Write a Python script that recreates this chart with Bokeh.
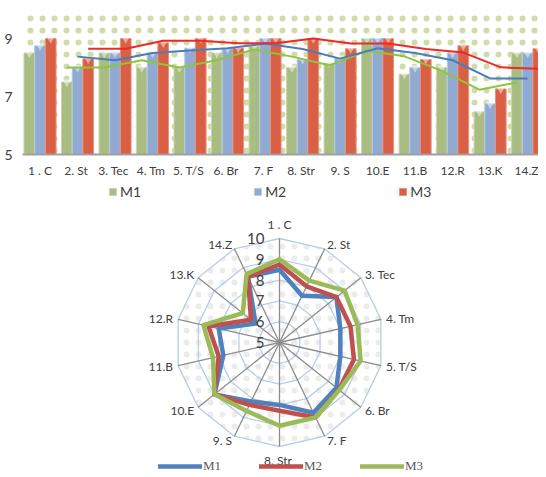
import numpy as np
from bokeh.plotting import figure
from bokeh.models import (ColumnDataSource, FixedTicker, Range1d, Legend, LegendItem,
                          BoxAnnotation)
from bokeh.layouts import column
from bokeh.embed import file_html
from bokeh.resources import INLINE
from bokeh.core.properties import value

# ---------------- data ----------------
categories = ["1 . C", "2.  St", "3.  Tec", "4.  Tm", "5.  T/S", "6.  Br", "7.  F",
              "8.  Str", "9. S", "10.E", "11.B", "12.R", "13.K", "14.Z"]
m1 = [8.5, 7.5, 8.5, 8.0, 8.0, 8.5, 8.75, 8.0, 8.15, 9.0, 7.77, 8.0, 6.47, 8.5]
m2 = [8.75, 8.0, 8.5, 8.5, 8.67, 8.65, 9.0, 8.28, 8.33, 9.0, 8.0, 8.5, 6.75, 8.5]
m3 = [9.0, 8.3, 9.0, 8.85, 9.0, 8.67, 9.0, 9.0, 8.65, 9.0, 8.28, 8.75, 7.26, 8.65]
series_names = ["M1", "M2", "M3"]
bar_y_ticks = [5, 7, 9]
radar_levels = [5, 6, 7, 8, 9, 10]
trend_period = 2  # moving-average trendline period

# ---------------- styles ----------------
bar_colors = ["#a9bd82", "#90aad2", "#d95f45"]
bar_edges = ["#c9d6ae", "#b8cbe6", "#e8927f"]
trend_colors = ["#8cc63f", "#4a7ebb", "#f02828"]
radar_colors = ["#4f81bd", "#c0504d", "#9bbb59"]
txt = "#404040"
FONT = "Lato"
LEFT = 22

# ================= top: clustered bars + moving-average trendlines =================
x = np.arange(1, len(categories) + 1)
w = 0.285
p1 = figure(width=538, height=180, x_range=Range1d(0.533, 14.29), y_range=Range1d(5, 10),
            output_backend="svg", toolbar_location=None,
            min_border_top=9, min_border_left=LEFT, min_border_right=0, min_border_bottom=23)
p1.outline_line_color = None
p1.xgrid.visible = False
p1.ygrid.visible = False
p1.background_fill_color = "white"

dots = BoxAnnotation(fill_alpha=0, line_color=None, hatch_pattern="dot", hatch_color="#cfdcaa",
                     hatch_scale=12, hatch_weight=0.9, level="underlay")
p1.add_layout(dots)

series = [m1, m2, m3]
offsets = [-w, 0.0, w]
for vals, off, fc, ec in zip(series, offsets, bar_colors, bar_edges):
    src = ColumnDataSource(dict(x=x + off, top=vals))
    p1.vbar(x="x", top="top", bottom=5, width=w, source=src, fill_color=fc,
            line_color=ec, line_width=1)
    p1.scatter(x="x", y="top", source=src, marker="inverted_triangle", size=9,
               fill_color="white", fill_alpha=0.45, line_color=None)

for vals, off, lc in zip(series, offsets, trend_colors):
    ma = np.convolve(vals, np.ones(trend_period) / trend_period, mode="valid")
    p1.line(x[trend_period - 1:] + off, ma, line_color=lc, line_width=2)

for ax in (p1.xaxis, p1.yaxis):
    ax.major_tick_out = 0
    ax.major_tick_in = 0
    ax.minor_tick_out = 0
    ax.minor_tick_in = 0
    ax.major_tick_line_color = None
    ax.minor_tick_line_color = None
    ax.major_label_text_font = FONT
    ax.major_label_text_color = txt

p1.yaxis.ticker = FixedTicker(ticks=bar_y_ticks)
p1.yaxis.axis_line_color = None
p1.yaxis.major_label_standoff = 10
p1.yaxis.major_label_text_font_size = "14px"

p1.xaxis.ticker = FixedTicker(ticks=list(x))
p1.xaxis.major_label_overrides = {int(i): c for i, c in zip(x, categories)}
p1.xaxis.axis_line_color = "#a0a0a0"
p1.xaxis.axis_line_width = 2
p1.xaxis.major_label_standoff = 8
p1.xaxis.major_label_text_font_size = "12px"

# ================= bottom: radar (also hosts the bar legend) =================
U = 20.8  # pixels per value unit
W2, H2 = 538, 294
cx, cy = 279 - LEFT, 162   # centre inside the frame
FW = W2 - LEFT
p2 = figure(width=W2, height=H2, output_backend="svg", toolbar_location=None,
            x_range=Range1d(-cx / U, (FW - cx) / U), y_range=Range1d(-(H2 - cy) / U, cy / U),
            min_border_left=LEFT, min_border_right=0, min_border_top=0, min_border_bottom=0,
            x_axis_location=None, y_axis_location=None)
p2.outline_line_color = None
p2.xgrid.visible = False
p2.ygrid.visible = False

# legend keys for the bar chart above (hidden copies of the bar series, legend only)
bar_keys = [p2.vbar(x=x, top=vals, bottom=5, width=w, fill_color=fc, line_color=ec, visible=False)
            for vals, fc, ec in zip(series, bar_colors, bar_edges)]
leg1 = Legend(items=[LegendItem(label=nm, renderers=[r]) for nm, r in zip(series_names, bar_keys)],
              orientation="horizontal", location=(86, 274), glyph_width=9, glyph_height=9,
              label_standoff=3, spacing=112, padding=0, margin=0,
              border_line_color=None, background_fill_alpha=0, inactive_fill_alpha=0,
              label_text_font=FONT, label_text_font_size="14px", label_text_color=txt)
p2.add_layout(leg1)

n = len(categories)
theta = np.pi / 2 - 2 * np.pi * np.arange(n) / n
cos_t, sin_t = np.cos(theta), np.sin(theta)
base = radar_levels[0]
rmax = radar_levels[-1] - base

p2.patch(list(rmax * cos_t), list(rmax * sin_t), fill_alpha=0, line_color=None,
         hatch_pattern="dot", hatch_color="#ececec", hatch_scale=12, hatch_weight=0.7)

ring_xs, ring_ys = [], []
for lvl in radar_levels[1:]:
    r = lvl - base
    ring_xs.append(list(np.append(r * cos_t, r * cos_t[0])))
    ring_ys.append(list(np.append(r * sin_t, r * sin_t[0])))
p2.multi_line(ring_xs, ring_ys, line_color="#b9cde5", line_width=1.3)
p2.multi_line([[0, rmax * c] for c in cos_t], [[0, rmax * s] for s in sin_t],
              line_color="#8c8c8c", line_width=1.3)

radar_rs = []
for vals, col in zip(series, radar_colors):
    r = np.asarray(vals) - base
    xs = np.append(r * cos_t, [r[0] * cos_t[0], r[1] * cos_t[1]])
    ys = np.append(r * sin_t, [r[0] * sin_t[0], r[1] * sin_t[1]])
    rr = p2.line(xs, ys, line_color=col, line_width=4.5, line_join="round", line_cap="round")
    radar_rs.append(rr)

# category labels
lab_x, lab_y, lab_align, lab_base = [], [], [], []
for c, s in zip(cos_t, sin_t):
    if abs(c) < 1e-6:
        rl = rmax + 0.3
        lab_align.append("center")
        lab_base.append("bottom" if s > 0 else "top")
    else:
        rl = rmax + 0.25
        lab_align.append("left" if c > 0 else "right")
        lab_base.append("middle")
    lab_x.append(rl * c)
    lab_y.append(rl * s)
p2.text(x="x", y="y", text="t", text_align="a", text_baseline="b",
        source=ColumnDataSource(dict(x=lab_x, y=lab_y, t=categories, a=lab_align, b=lab_base)),
        text_font=value(FONT), text_font_size="12px", text_color=txt)

# radial tick labels
p2.text(x=[-0.72] * len(radar_levels), y=[lv - base for lv in radar_levels],
        text=[str(lv) for lv in radar_levels], text_align="right", text_baseline="middle",
        text_font=value(FONT), text_font_size="15px", text_color=txt)

leg2 = Legend(items=[LegendItem(label=nm, renderers=[r]) for nm, r in zip(series_names, radar_rs)],
              orientation="horizontal", location=(136, 0), glyph_width=44, glyph_height=12,
              label_standoff=1, spacing=36, padding=0, margin=0,
              border_line_color=None, background_fill_alpha=0,
              label_text_font="Liberation Serif", label_text_font_size="13px",
              label_text_color="#595959")
p2.add_layout(leg2)

layout = column(p1, p2, spacing=0)
open("out.html", "w").write(file_html(layout, INLINE))
